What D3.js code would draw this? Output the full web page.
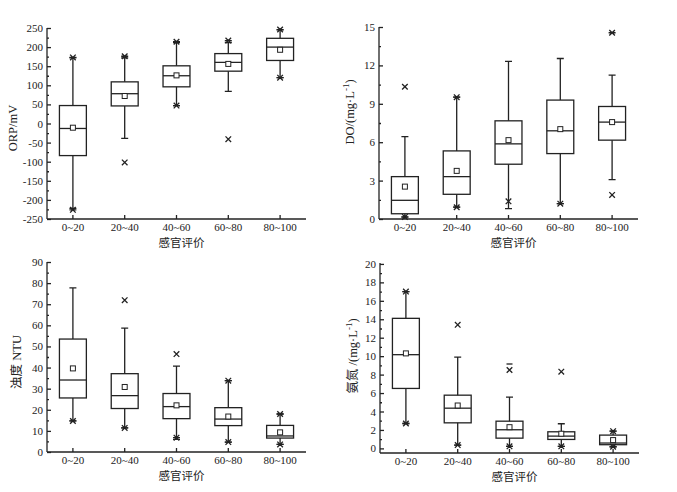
<!DOCTYPE html>
<html lang="zh">
<head>
<meta charset="UTF-8">
<title>感官评价 箱线图</title>
<script src="https://cdnjs.cloudflare.com/ajax/libs/d3/7.8.5/d3.min.js"></script>
<style>
  body { margin: 0; background: #fff; }
  svg text { fill: #222; }
  .tick text { font-family: "Liberation Serif", "DejaVu Serif", serif; font-size: 11px; }
  .cn { font-family: "Noto Sans CJK SC", sans-serif; font-size: 11.5px; }
  .ylab { font-family: "Liberation Serif", "Noto Sans CJK SC", serif; font-size: 12.5px; }
</style>
</head>
<body>
<div id="chart"></div>
<script>
// 感官评价分组
const groups = ["0~20", "20~40", "40~60", "60~80", "80~100"];

// ORP/mV
const orpLo   = [-222, -39, 47, 84, 120];
const orpQ1   = [-84, 46, 96, 137, 165];
const orpMed  = [-13, 78, 125, 160, 200];
const orpQ3   = [47, 109, 151, 183, 223];
const orpHi   = [172, 172, 212, 212, 245];
const orpMean = [-11, 72, 126, 156, 193];
const orpPts  = [[0, 173, "*"], [0, -226, "*"], [1, 176, "*"], [1, -102, "x"],
                 [2, 214, "*"], [2, 47, "*"], [3, 217, "*"], [3, -41, "x"],
                 [4, 246, "*"], [4, 120, "*"]];

// DO/(mg·L-1)
const doLo   = [0.15, 0.92, 0.81, 1.2, 3.08];
const doQ1   = [0.41, 1.93, 4.28, 5.11, 6.16];
const doMed  = [1.46, 3.31, 5.87, 6.89, 7.57];
const doQ3   = [3.31, 5.32, 7.67, 9.29, 8.79];
const doHi   = [6.44, 9.52, 12.31, 12.54, 11.24];
const doMean = [2.53, 3.76, 6.16, 7.02, 7.57];
const doPts  = [[0, 10.33, "x"], [0, 0.16, "*"], [1, 9.52, "*"], [1, 0.92, "*"],
                [2, 1.38, "x"], [3, 1.2, "*"], [4, 14.55, "*"], [4, 1.88, "x"]];

// 浊度 NTU
const ntuLo   = [14.7, 11.4, 6.0, 4.7, 3.6];
const ntuQ1   = [25.6, 20.6, 15.8, 12.5, 6.6];
const ntuMed  = [34.1, 26.7, 21.5, 15.6, 7.6];
const ntuQ3   = [53.5, 37.1, 27.7, 21.0, 12.6];
const ntuHi   = [77.7, 58.7, 40.7, 33.8, 18.0];
const ntuMean = [39.6, 30.8, 22.1, 16.8, 9.3];
const ntuPts  = [[0, 14.7, "*"], [1, 71.9, "x"], [1, 11.4, "*"], [2, 46.4, "x"],
                 [2, 6.8, "*"], [3, 33.8, "*"], [3, 4.7, "*"], [4, 18.0, "*"],
                 [4, 3.6, "*"]];

// 氨氮/(mg·L-1)
const nhLo   = [2.7, 0.36, 0.22, 0.22, 0.18];
const nhQ1   = [6.5, 2.77, 1.11, 0.97, 0.4];
const nhMed  = [10.16, 4.36, 2.02, 1.33, 0.58];
const nhQ3   = [14.1, 5.77, 2.95, 1.8, 1.44];
const nhHi   = [17.0, 9.9, 5.55, 2.67, 1.87];
const nhMean = [10.3, 4.65, 2.3, 1.59, 0.9];
const nhPts  = [[0, 17.0, "*"], [0, 2.7, "*"], [1, 13.4, "x"], [1, 0.36, "*"],
                [2, 8.5, "x"], [2, 9.15, "-"], [2, 0.22, "*"], [3, 8.32, "x"],
                [3, 0.22, "*"], [4, 1.87, "*"], [4, 0.18, "*"]];

const width = 677, height = 492;
const svg = d3.select("#chart").append("svg")
    .attr("width", width).attr("height", height);

const ink = "#222";

function panel(opt) {
    const g = svg.append("g");
    const x = d3.scaleBand().domain(groups).range([opt.x0, opt.x1]);
    const y = d3.scaleLinear().domain(opt.domain).range([opt.y1, opt.y0]);
    const bw = x.bandwidth() * 0.52;
    const cx = i => x(groups[i]) + x.bandwidth() / 2;

    // 坐标轴 (刻度朝内)
    const yAxis = g.append("g").attr("transform", `translate(${opt.x0},0)`)
        .call(d3.axisLeft(y).tickValues(opt.ticks).tickSize(-4).tickPadding(4));
    g.append("g").attr("transform", `translate(${opt.x0},0)`)
        .call(d3.axisLeft(y).tickValues(opt.minor).tickSize(-2).tickFormat(""))
        .select(".domain").remove();
    yAxis.select(".domain").attr("d", `M0,${opt.y0}V${opt.y1}`);
    const xAxis = g.append("g").attr("transform", `translate(0,${opt.y1})`)
        .call(d3.axisBottom(x).tickSize(-4).tickPadding(4));
    xAxis.select(".domain").attr("d", `M${opt.x0},0H${opt.x1}`);
    g.selectAll(".domain, .tick line").attr("stroke", ink).attr("stroke-width", 1.3);
    g.selectAll(".tick text").text(function () { return d3.select(this).text().replace("−", "-"); });

    // 须线
    const d = opt.lo.map((v, i) => i);
    g.selectAll(".wh").data(d).join("path")
        .attr("d", i => `M${cx(i)},${y(opt.lo[i])}V${y(opt.q1[i])}M${cx(i)},${y(opt.q3[i])}V${y(opt.hi[i])}` +
            `M${cx(i) - 3.5},${y(opt.lo[i])}h7M${cx(i) - 3.5},${y(opt.hi[i])}h7`)
        .attr("stroke", ink).attr("stroke-width", 1.3).attr("fill", "none");

    // 箱体
    g.selectAll(".box").data(d).join("rect")
        .attr("x", i => cx(i) - bw / 2).attr("width", bw)
        .attr("y", i => y(opt.q3[i])).attr("height", i => y(opt.q1[i]) - y(opt.q3[i]))
        .attr("fill", "none").attr("stroke", ink).attr("stroke-width", 1.3);
    g.selectAll(".med").data(d).join("line")
        .attr("x1", i => cx(i) - bw / 2).attr("x2", i => cx(i) + bw / 2)
        .attr("y1", i => y(opt.med[i])).attr("y2", i => y(opt.med[i]))
        .attr("stroke", ink).attr("stroke-width", 1.3);

    // 均值
    g.selectAll(".mean").data(d).join("rect")
        .attr("x", i => cx(i) - 2.5).attr("y", i => y(opt.mean[i]) - 2.5)
        .attr("width", 5).attr("height", 5)
        .attr("fill", "#fff").attr("stroke", ink).attr("stroke-width", 1);

    // 1%/99% 与极值标记
    g.selectAll(".pt").data(opt.pts).join("path")
        .attr("d", p => {
            const px = cx(p[0]), py = y(p[1]), r = 2.8;
            const xs = `M${px - r},${py - r}L${px + r},${py + r}M${px - r},${py + r}L${px + r},${py - r}`;
            if (p[2] === "x") return xs;
            if (p[2] === "-") return `M${px - 3},${py}h6`;
            return xs + `M${px - 3.5},${py}h7`;
        })
        .attr("stroke", ink).attr("stroke-width", 1.3).attr("fill", "none");

    // 标题
    g.append("text").attr("class", "cn")
        .attr("x", (opt.x0 + opt.x1) / 2 + 5).attr("y", opt.y1 + 28)
        .attr("text-anchor", "middle").text("感官评价");
    const yl = g.append("text").attr("class", "ylab")
        .attr("transform", `translate(${opt.lx},${opt.ly}) rotate(-90)`)
        .attr("text-anchor", "middle");
    opt.label(yl);
}

panel({
    x0: 47, x1: 306, y0: 28, y1: 219, domain: [-250, 250],
    ticks: d3.range(-250, 251, 50), minor: d3.range(-225, 250, 50),
    lo: orpLo, q1: orpQ1, med: orpMed, q3: orpQ3, hi: orpHi, mean: orpMean, pts: orpPts,
    lx: 17, ly: 128, label: t => t.text("ORP/mV")
});
panel({
    x0: 379, x1: 638, y0: 27, y1: 219, domain: [0, 15],
    ticks: d3.range(0, 16, 3), minor: d3.range(1.5, 15, 3),
    lo: doLo, q1: doQ1, med: doMed, q3: doQ3, hi: doHi, mean: doMean, pts: doPts,
    lx: 354, ly: 112, label: t => {
        t.append("tspan").text("DO/(mg·L");
        t.append("tspan").attr("dy", -5).attr("font-size", 9).text("-1");
        t.append("tspan").attr("dy", 5).text(")");
    }
});
panel({
    x0: 47, x1: 306, y0: 262, y1: 452, domain: [0, 90],
    ticks: d3.range(0, 91, 10), minor: d3.range(5, 90, 10),
    lo: ntuLo, q1: ntuQ1, med: ntuMed, q3: ntuQ3, hi: ntuHi, mean: ntuMean, pts: ntuPts,
    lx: 21, ly: 362, label: t => t.text("浊度 NTU")
});
panel({
    x0: 380, x1: 639, y0: 263, y1: 453, domain: [-0.5, 20.1],
    ticks: d3.range(0, 21, 2), minor: d3.range(1, 20, 2),
    lo: nhLo, q1: nhQ1, med: nhMed, q3: nhQ3, hi: nhHi, mean: nhMean, pts: nhPts,
    lx: 357, ly: 356, label: t => {
        t.append("tspan").text("氨氮 /(mg·L");
        t.append("tspan").attr("dy", -5).attr("font-size", 9).text("-1");
        t.append("tspan").attr("dy", 5).text(")");
    }
});
</script>
</body>
</html>
